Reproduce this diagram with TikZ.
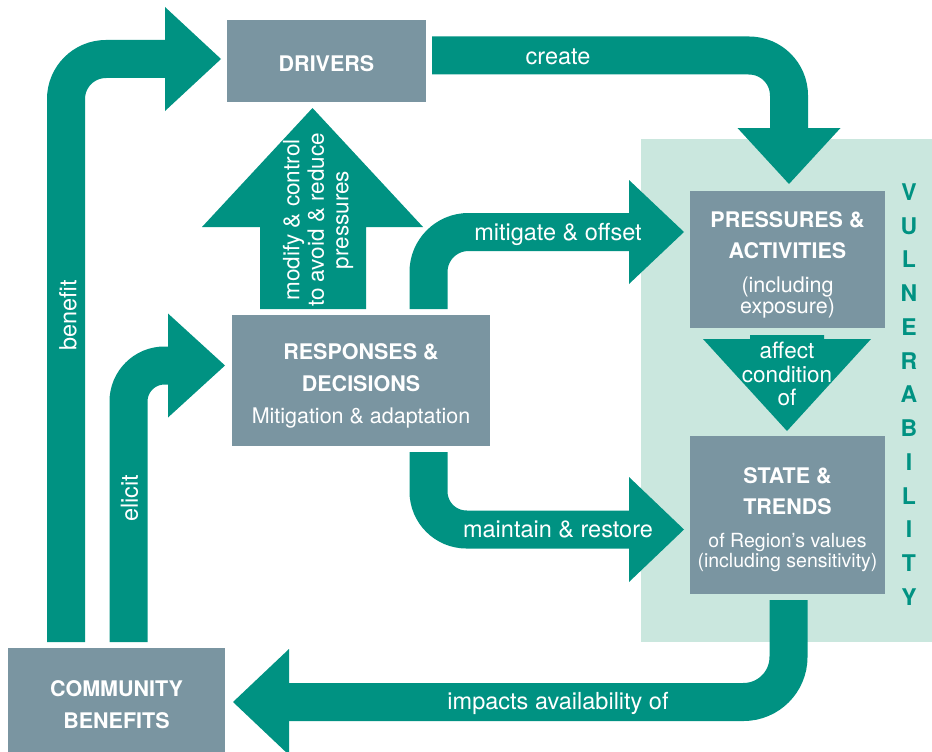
\documentclass[tikz,border=0pt]{standalone}
\usepackage{fontspec}
\setmainfont{TeX Gyre Heros}
\usetikzlibrary{calc}
\definecolor{teal1}{RGB}{0,146,130}
\definecolor{boxgrey}{RGB}{122,149,161}
\definecolor{vulbg}{RGB}{202,231,222}
\tikzset{
  box/.style={fill=boxgrey, draw=none, inner sep=0pt},
  shaft/.style={draw=teal1, line width=38pt},
  head/.style={fill=teal1, draw=none},
  ttl/.style={anchor=base, text=white, font=\fontsize{21.5}{24}\selectfont\bfseries, inner sep=0pt},
  sub/.style={anchor=base, text=white, font=\fontsize{21.5}{24}\selectfont, inner sep=0pt},
  subs/.style={anchor=base, text=white, font=\fontsize{19.5}{22}\selectfont, inner sep=0pt},
  lbl/.style={anchor=base, text=white, font=\fontsize{23.5}{26}\selectfont, inner sep=0pt},
  rlbl/.style={anchor=center, rotate=90, text=white, font=\fontsize{23.5}{24.5}\selectfont, inner sep=0pt, align=center},
}
\begin{document}
\begin{tikzpicture}[x=1pt,y=-1pt]
\useasboundingbox (0,0) rectangle (932,752);
% vulnerability background
\fill[vulbg] (641,139) rectangle (932,642);
\node[text=teal1, font=\fontsize{23}{33.75}\selectfont\bfseries, align=center, inner sep=0pt] (vul) at (909,394.5)
  {V\\U\\L\\N\\E\\R\\A\\B\\I\\L\\I\\T\\Y};

% boxes
\node[box, minimum width=199pt, minimum height=82pt] (drv) at (326.5,61) {};
\node[box, minimum width=258pt, minimum height=131pt] (res) at (361,380.5) {};
\node[box, minimum width=217pt, minimum height=106pt] (cb) at (116.5,701) {};
\node[box, minimum width=195pt, minimum height=137pt] (pre) at (787.5,259.5) {};
\node[box, minimum width=195pt, minimum height=158pt] (sta) at (787.5,515) {};

% coordinates for connectors
\coordinate (bS) at (66,642);   \coordinate (bE) at (165,59);
\coordinate (eS) at (128.5,642); \coordinate (eE) at (168,365.5);
\coordinate (cS) at (432,55.5);  \coordinate (cE) at (789,128);
\coordinate (mS) at (428.5,309); \coordinate (mE) at (629,232);
\coordinate (rS) at (428.5,452); \coordinate (rE) at (629,529.5);
\coordinate (iS) at (788.5,600); \coordinate (iE) at (289,702);

% benefit
\draw[shaft, rounded corners=40pt] (bS) |- (bE);
\fill[head] ($(bE)+(0,-52)$) -- ($(bE)+(56,0)$) -- ($(bE)+(0,52)$) -- cycle;
% elicit
\draw[shaft, rounded corners=36pt] (eS) |- (eE);
\fill[head] ($(eE)+(0,-52)$) -- ($(eE)+(57,0)$) -- ($(eE)+(0,52)$) -- cycle;
% create
\draw[shaft, rounded corners=40pt] (cS) -| (cE);
\fill[head] ($(cE)+(-51.5,0)$) -- ($(cE)+(0,56)$) -- ($(cE)+(51.5,0)$) -- cycle;
% mitigate
\draw[shaft, rounded corners=40pt] (mS) |- (mE);
\fill[head] ($(mE)+(0,-52)$) -- ($(mE)+(55,0)$) -- ($(mE)+(0,52)$) -- cycle;
% maintain
\draw[shaft, rounded corners=38pt] (rS) |- (rE);
\fill[head] ($(rE)+(0,-52.5)$) -- ($(rE)+(55,0)$) -- ($(rE)+(0,52.5)$) -- cycle;
% impacts
\draw[shaft, rounded corners=45pt] (iS) |- (iE);
\fill[head] ($(iE)+(0,-53)$) -- ($(iE)+(-56,0)$) -- ($(iE)+(0,53)$) -- cycle;
% modify & control (block arrow up)
\fill[head] (260,309) -- (260,227) -- (202,227) -- (312.5,108) -- (423,227) -- (366,227) -- (366,309) -- cycle;
% affect condition of (block arrow down)
\fill[head] (750,335) -- (824,335) -- (824,339) -- (871,339) -- (787,431) -- (703,339) -- (750,339) -- cycle;

% box texts
\node[ttl] (drvT) at (326.5,72) {DRIVERS};
\node[ttl] (resT1) at (361,359) {RESPONSES \&};
\node[ttl] (resT2) at (361,391) {DECISIONS};
\node[sub] (resT3) at (361,423) {Mitigation \& adaptation};
\node[ttl] (cbT1) at (116.5,696) {COMMUNITY};
\node[ttl] (cbT2) at (116.5,728) {BENEFITS};
\node[ttl] (preT1) at (787.5,227) {PRESSURES \&};
\node[ttl] (preT2) at (787.5,258) {ACTIVITIES};
\node[sub] (preT3) at (787.5,292) {(including};
\node[sub] (preT4) at (787.5,313) {exposure)};
\node[ttl] (staT1) at (787.5,483) {STATE \&};
\node[ttl] (staT2) at (787.5,514) {TRENDS};
\node[subs] (staT3) at (787.5,547) {of Region’s values};
\node[subs] (staT4) at (787.5,567) {(including sensitivity)};

% connector labels
\node[lbl] (lcreate) at (558,65) {create};
\node[lbl] (lmit) at (558,240) {mitigate \& offset};
\node[lbl] (lmain) at (558,537) {maintain \& restore};
\node[lbl] (limp) at (558,709) {impacts availability of};
\node[lbl, font=\fontsize{22.5}{24}\selectfont] (laff1) at (787,358) {affect};
\node[lbl, font=\fontsize{22.5}{24}\selectfont] (laff2) at (787,382) {condition};
\node[lbl, font=\fontsize{22.5}{24}\selectfont] (laff3) at (787,405) {of};
\node[rlbl] (lben) at (68,315) {benefit};
\node[rlbl] (leli) at (129.5,498) {elicit};
\node[rlbl, font=\fontsize{22.5}{24.5}\selectfont] (lmod) at (318,220) {modify \& control\\to avoid \& reduce\\pressures};
\end{tikzpicture}
\end{document}
